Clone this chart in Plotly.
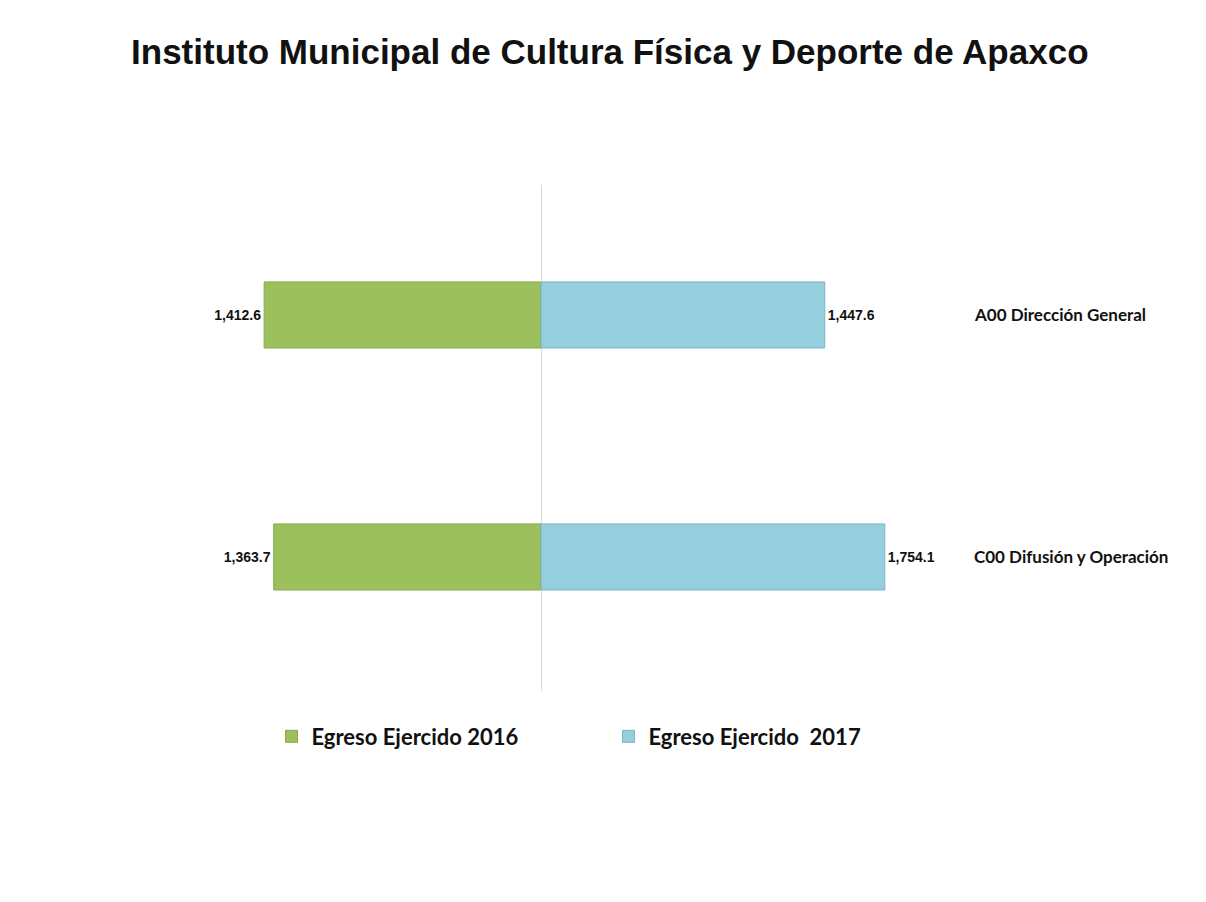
import plotly.graph_objects as go

categories = ["A00 Dirección General", "C00 Difusión y Operación"]
egreso_2016 = [1412.6, 1363.7]
egreso_2017 = [1447.6, 1754.1]
series_names = ["Egreso Ejercido 2016", "Egreso Ejercido  2017"]
title_text = "Instituto Municipal de Cultura Física y Deporte de Apaxco"

def fmt(v):
    return f"<b>{v:,.1f}</b>"

label_font = dict(family="Liberation Sans Narrow, Arial Narrow, Liberation Sans, sans-serif", size=14, color="#111111")

fig = go.Figure()
fig.add_trace(go.Bar(
    y=categories, x=[-v for v in egreso_2016], orientation="h",
    name=f"<b>{series_names[0]}</b>",
    marker=dict(color="#9CC15C", line=dict(color="#86A94A", width=1)),
    text=[fmt(v) for v in egreso_2016], textposition="outside",
    textfont=label_font, cliponaxis=False, width=0.273,
))
fig.add_trace(go.Bar(
    y=categories, x=egreso_2017, orientation="h",
    name=f"<b>{series_names[1]}</b>",
    marker=dict(color="#95CEDC", line=dict(color="#7DB3C4", width=1)),
    text=[fmt(v) for v in egreso_2017], textposition="outside",
    textfont=label_font, cliponaxis=False, width=0.273,
))

# category labels on the right
for cat in categories:
    fig.add_annotation(x=0.890, xref="paper", y=cat, yref="y", text=f"<b>{cat}</b>",
                       showarrow=False, xanchor="left",
                       font=dict(family="Lato, Open Sans, sans-serif", size=17, color="#111111"))

fig.update_layout(
    width=1206, height=902,
    paper_bgcolor="white", plot_bgcolor="white",
    barmode="relative",
    margin=dict(l=92, r=134, t=177, b=219),
    title=dict(text=f"<b>{title_text}</b>", x=0.499, xanchor="center", y=0.951, yanchor="middle",
               font=dict(family="Liberation Sans, Arial, sans-serif", size=35, color="#111111")),
    xaxis=dict(range=[-2250, 2750], showgrid=False, showticklabels=False, zeroline=True,
               zerolinecolor="#D9D9D9", zerolinewidth=1, showline=False, fixedrange=True),
    yaxis=dict(range=[1.554, -0.537], showgrid=False, showticklabels=False, showline=False,
               zeroline=False, type="category", categoryorder="array", categoryarray=categories),
    showlegend=True,
    legend=dict(orientation="h", x=0.175, xanchor="left", y=-0.09, yanchor="middle",
                entrywidth=292, entrywidthmode="pixels", traceorder="normal", itemwidth=30,
                font=dict(family="Lato, Open Sans, sans-serif", size=22, color="#111111"),
                itemclick=False),
)

fig.write_html("out.html")
